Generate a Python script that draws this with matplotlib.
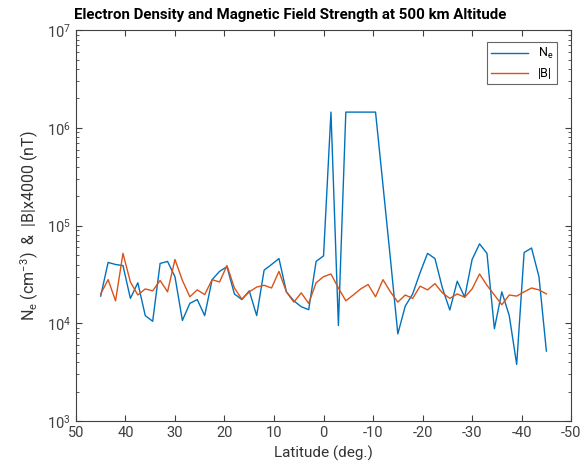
import matplotlib
matplotlib.use("Agg")
import matplotlib.pyplot as plt
import numpy as np
from matplotlib.ticker import LogLocator, NullFormatter

plt.rcParams['font.family'] = ['Roboto', 'DejaVu Sans']
plt.rcParams['mathtext.fontset'] = 'custom'
plt.rcParams['mathtext.rm'] = 'Roboto'
plt.rcParams['mathtext.it'] = 'Roboto'
plt.rcParams['axes.unicode_minus'] = False

# latitude grid, 45 -> -45 deg
lat = np.linspace(45, -45, 61)

# electron density (cm^-3)
ne = [1.9e4, 4.2e4, 4.0e4, 3.9e4, 1.8e4, 2.6e4, 1.2e4, 1.05e4, 4.1e4, 4.3e4,
      3.0e4, 1.07e4, 1.6e4, 1.75e4, 1.2e4, 2.8e4, 3.4e4, 3.8e4, 2.0e4, 1.75e4,
      2.15e4, 1.2e4, 3.5e4, 4.0e4, 4.6e4, 2.1e4, 1.7e4, 1.48e4, 1.38e4, 4.3e4,
      4.9e4,
      1.45e6, 9.5e3, 1.45e6, 1.45e6, 1.45e6, 1.45e6, 1.45e6, 2.6e5, 4.6e4, 7.8e3,
      1.5e4, 2.0e4, 3.3e4, 5.2e4, 4.6e4, 2.3e4, 1.37e4, 2.7e4, 1.85e4, 4.5e4,
      6.5e4, 5.2e4, 8.8e3, 2.1e4, 1.2e4, 3.8e3, 5.3e4, 5.9e4, 3.0e4, 5.2e3]

# |B| x 4000 (nT)
bmag = [2.0e4, 2.8e4, 1.7e4, 5.2e4, 2.65e4, 1.95e4, 2.25e4, 2.15e4, 2.75e4, 2.1e4,
        4.5e4, 2.75e4, 1.87e4, 2.2e4, 1.97e4, 2.8e4, 2.65e4, 3.9e4, 2.3e4, 1.77e4,
        2.1e4, 2.35e4, 2.45e4, 2.3e4, 3.4e4, 2.1e4, 1.65e4, 2.05e4, 1.6e4, 2.6e4,
        3.0e4,
        3.2e4, 2.3e4, 1.7e4, 1.95e4, 2.25e4, 2.5e4, 1.87e4, 2.8e4, 2.1e4, 1.65e4,
        1.95e4, 1.8e4, 2.4e4, 2.2e4, 2.55e4, 2.05e4, 1.8e4, 2.0e4, 1.85e4, 2.25e4,
        3.2e4, 2.45e4, 1.95e4, 1.55e4, 1.95e4, 1.9e4, 2.1e4, 2.3e4, 2.2e4, 2.0e4]

xticks = [50, 40, 30, 20, 10, 0, -10, -20, -30, -40, -50]

fig = plt.figure(figsize=(5.84, 4.71), dpi=100)
ax = fig.add_axes([0.130, 0.106, 0.848, 0.830])

ax.semilogy(lat, ne, color='#0072BD', lw=1.0, label='N$_\\mathrm{e}$')
ax.semilogy(lat, bmag, color='#D95319', lw=1.0, label='|B|')

ax.set_xlim(50, -50)
ax.set_ylim(1e3, 1e7)
ax.set_xticks(xticks)
ax.set_xticklabels([str(t) for t in xticks])
ax.yaxis.set_minor_locator(LogLocator(base=10, subs=np.arange(2, 10)))
ax.yaxis.set_minor_formatter(NullFormatter())

ax.tick_params(which='both', direction='in', top=True, right=True,
               colors='#404040', labelsize=10.5)
ax.tick_params(which='major', length=4)
ax.tick_params(which='minor', length=2)
for s in ax.spines.values():
    s.set_color('#404040')
    s.set_linewidth(0.8)

# title sits a bit left of the axes centre in the original
ax.set_title('Electron Density and Magnetic Field Strength at 500 km Altitude',
             fontsize=10.8, fontweight='bold', pad=8, x=0.432)
ax.set_xlabel('Latitude (deg.)', fontsize=11, color='#333333')
ax.set_ylabel('N$_\\mathrm{e}$ (cm$^{-3}$)  &  |B|x4000 (nT)', fontsize=11.5,
              color='#333333')

leg = ax.legend(loc='upper right', bbox_to_anchor=(0.972, 0.969), fontsize=9,
                frameon=True, fancybox=False, edgecolor='#404040',
                handlelength=3.0, borderaxespad=0, borderpad=0.3,
                labelspacing=0.5)
leg.get_frame().set_linewidth(0.8)

fig.savefig('out.png', dpi=100)
